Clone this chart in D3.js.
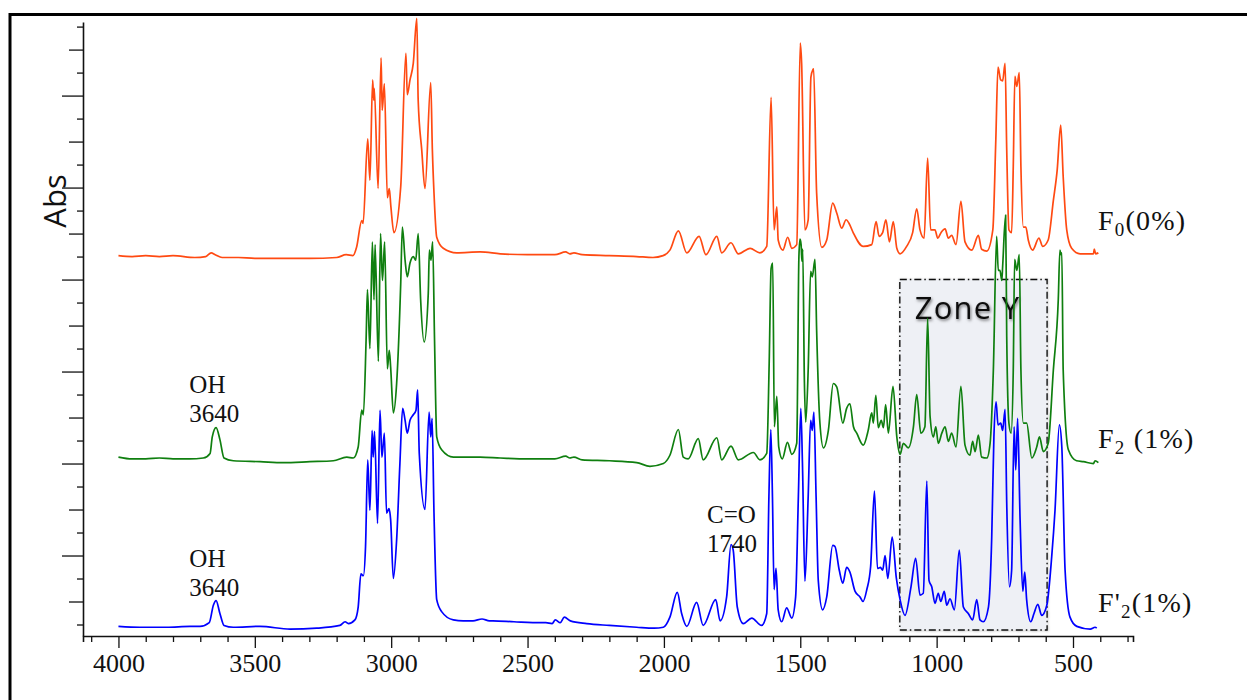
<!DOCTYPE html>
<html>
<head>
<meta charset="utf-8">
<script src="https://cdn.jsdelivr.net/npm/d3@7"></script>
<style>
  body { margin: 0; background: #fff; }
  svg { display: block; }
</style>
</head>
<body>
<svg id="chart" width="1247" height="700"></svg>
<script>
// FTIR spectra: [wavenumber (cm-1), absorbance above each trace's own baseline]
const spectrumF0 = [
  [4000,0.001],[3950,0],[3900,0.001],[3850,0],[3800,0.001],[3720,-0.001],[3680,0],[3660,0.004],[3645,0.002],[3620,-0.001],
  [3560,-0.001],[3500,-0.002],[3400,-0.002],[3300,-0.002],[3200,-0.001],[3165,0.002],[3140,0.001],[3127,0.010],[3108,0.039],[3103,0.036],
  [3086,0.128],[3078,0.083],[3068,0.192],[3064,0.170],[3062,0.183],[3048,0.074],[3037,0.216],[3033,0.159],[3025,0.188],[3014,0.064],
  [3007,0.074],[3001,0.054],[2990,0.026],[2965,0.076],[2946,0.221],[2941,0.176],[2931,0.192],[2919,0.210],[2906,0.259],[2901,0.170],
  [2888,0.116],[2876,0.074],[2855,0.189],[2849,0.116],[2843,0.069],[2833,0.021],[2809,0.009],[2760,0.004],[2674,0.005],[2600,0.003],
  [2500,0.002],[2400,0.002],[2360,0.005],[2345,0.003],[2330,0.004],[2300,0.002],[2200,0.001],[2100,0],[2040,-0.001],[2003,0.001],
  [1978,0.007],[1947,0.028],[1916,0.004],[1871,0.022],[1846,0.002],[1806,0.022],[1788,0.004],[1754,0.015],[1727,0.003],[1684,0.009],
  [1648,0.004],[1623,0.011],[1607,0.173],[1596,0.029],[1586,0.054],[1581,0.018],[1564,0.007],[1546,0.021],[1531,0.009],[1513,0.013],
  [1500,0.232],[1495,0.210],[1483,0.029],[1471,0.040],[1461,0.195],[1454,0.203],[1451,0.204],[1440,0.069],[1421,0.010],[1403,0.018],
  [1381,0.058],[1366,0.047],[1348,0.031],[1332,0.040],[1321,0.036],[1306,0.026],[1269,0.011],[1238,0.013],[1222,0.038],[1211,0.022],
  [1198,0.026],[1186,0.040],[1173,0.016],[1159,0.038],[1146,0.009],[1134,0.003],[1110,0.011],[1088,0.026],[1073,0.052],[1061,0.029],
  [1046,0.020],[1033,0.107],[1022,0.029],[1006,0.029],[996,0.020],[984,0.026],[969,0.030],[957,0.020],[945,0.023],[929,0.013],
  [911,0.060],[896,0.016],[871,0.007],[847,0.023],[835,0.008],[816,0.006],[794,0.029],[783,0.127],[775,0.206],[765,0.192],
  [758,0.191],[749,0.210],[743,0.116],[735,0.029],[725,0.026],[719,0.098],[713,0.196],[706,0.185],[697,0.200],[691,0.098],
  [682,0.032],[673,0.032],[664,0.018],[648,0.007],[625,0.020],[611,0.011],[591,0.018],[572,0.061],[558,0.094],[545,0.143],
  [536,0.087],[523,0.029],[505,0.009],[474,0.003],[425,0.003],[422,0.008],[417,0.003],[407,0.004]
];

const spectrumF2 = [
  [4000,0.007],[3950,0.005],[3900,0.005],[3850,0.006],[3800,0.005],[3740,0.005],[3689,0.006],[3664,0.011],[3656,0.029],[3642,0.039],
  [3628,0.026],[3613,0.006],[3579,0.003],[3481,0.002],[3396,0.001],[3298,0.002],[3212,0.003],[3163,0.007],[3139,0.006],[3121,0.018],
  [3108,0.058],[3102,0.053],[3092,0.134],[3087,0.189],[3078,0.125],[3069,0.241],[3063,0.178],[3059,0.238],[3047,0.111],[3039,0.250],
  [3032,0.199],[3024,0.241],[3014,0.103],[3007,0.123],[3002,0.105],[2992,0.055],[2980,0.087],[2965,0.196],[2959,0.257],[2949,0.221],
  [2941,0.203],[2931,0.218],[2919,0.225],[2910,0.221],[2901,0.250],[2892,0.178],[2879,0.132],[2864,0.185],[2860,0.232],[2854,0.221],
  [2848,0.241],[2841,0.134],[2833,0.029],[2815,0.015],[2772,0.007],[2674,0.007],[2600,0.006],[2500,0.005],[2400,0.005],[2360,0.008],
  [2345,0.006],[2330,0.007],[2300,0.004],[2200,0.003],[2100,0.001],[2051,-0.003],[2002,0],[1978,0.009],[1947,0.037],[1929,0.007],
  [1911,0.005],[1874,0.027],[1856,0.004],[1806,0.028],[1788,0.004],[1754,0.019],[1727,0.004],[1672,0.012],[1648,0.004],[1623,0.011],
  [1614,0.109],[1607,0.212],[1601,0.218],[1595,0.040],[1586,0.073],[1579,0.018],[1566,0.005],[1547,0.023],[1531,0.010],[1513,0.022],
  [1505,0.225],[1501,0.244],[1497,0.238],[1494,0.220],[1491,0.233],[1485,0.091],[1480,0.045],[1471,0.102],[1462,0.209],[1456,0.203],
  [1446,0.222],[1440,0.145],[1428,0.044],[1415,0.017],[1397,0.036],[1379,0.087],[1366,0.083],[1344,0.044],[1330,0.060],[1318,0.065],
  [1305,0.040],[1293,0.033],[1269,0.020],[1251,0.036],[1238,0.055],[1232,0.044],[1223,0.074],[1214,0.039],[1203,0.047],[1195,0.039],
  [1187,0.064],[1177,0.033],[1160,0.084],[1146,0.029],[1134,0.010],[1122,0.022],[1104,0.017],[1085,0.040],[1073,0.075],[1058,0.033],
  [1043,0.040],[1033,0.158],[1024,0.051],[1012,0.029],[1003,0.040],[994,0.022],[981,0.033],[969,0.040],[957,0.024],[945,0.033],
  [929,0.018],[911,0.084],[896,0.020],[878,0.009],[868,0.024],[859,0.013],[847,0.031],[835,0.007],[816,0.006],[804,0.022],
  [792,0.102],[780,0.247],[774,0.210],[768,0.210],[761,0.199],[758,0.214],[747,0.270],[743,0.138],[735,0.044],[727,0.033],
  [719,0.102],[714,0.222],[706,0.210],[697,0.227],[691,0.102],[682,0.044],[670,0.044],[651,0.006],[633,0.018],[623,0.029],
  [609,0.013],[591,0.022],[572,0.102],[554,0.178],[548,0.232],[544,0.227],[541,0.229],[536,0.102],[517,0.015],[487,0.003],
  [462,0.002],[425,0],[419,0.003],[407,0.001]
];

const spectrumF2p = [
  [4000,0.003],[3921,0.002],[3823,0.002],[3738,0.003],[3701,0.003],[3667,0.007],[3652,0.026],[3642,0.031],[3628,0.017],[3613,0.004],
  [3579,0.002],[3481,0.003],[3371,0],[3273,0.001],[3188,0.004],[3169,0.008],[3157,0.006],[3133,0.010],[3121,0.024],[3111,0.060],
  [3102,0.058],[3094,0.090],[3086,0.184],[3078,0.129],[3070,0.216],[3066,0.187],[3061,0.215],[3050,0.115],[3041,0.238],[3034,0.187],
  [3025,0.213],[3017,0.126],[3008,0.131],[3002,0.119],[2992,0.055],[2980,0.097],[2968,0.180],[2958,0.240],[2949,0.227],[2941,0.213],
  [2931,0.227],[2919,0.233],[2909,0.238],[2903,0.260],[2897,0.191],[2876,0.130],[2861,0.236],[2855,0.209],[2850,0.229],[2843,0.126],
  [2833,0.032],[2815,0.019],[2772,0.010],[2736,0.009],[2700,0.009],[2667,0.011],[2640,0.009],[2627,0.009],[2550,0.008],[2450,0.007],
  [2433,0.007],[2410,0.006],[2398,0.010],[2380,0.007],[2365,0.013],[2343,0.009],[2283,0.006],[2200,0.004],[2100,0.002],[2036,0.001],
  [2002,0.002],[1978,0.013],[1951,0.040],[1935,0.017],[1916,0.003],[1880,0.029],[1856,0.004],[1810,0.032],[1794,0.009],[1770,0.035],
  [1754,0.092],[1746,0.086],[1731,0.024],[1709,0.006],[1678,0.012],[1642,0.004],[1623,0.017],[1615,0.144],[1608,0.217],[1602,0.144],
  [1596,0.043],[1589,0.066],[1581,0.021],[1568,0.008],[1550,0.023],[1531,0.012],[1517,0.035],[1507,0.144],[1498,0.240],[1492,0.180],
  [1483,0.052],[1471,0.144],[1462,0.227],[1456,0.216],[1450,0.236],[1442,0.144],[1434,0.053],[1418,0.021],[1403,0.035],[1381,0.091],
  [1373,0.090],[1357,0.064],[1344,0.050],[1330,0.067],[1318,0.062],[1299,0.041],[1281,0.035],[1270,0.030],[1256,0.043],[1242,0.068],
  [1228,0.150],[1217,0.066],[1206,0.067],[1198,0.064],[1189,0.080],[1179,0.055],[1163,0.100],[1148,0.056],[1134,0.032],[1116,0.015],
  [1094,0.046],[1077,0.077],[1061,0.037],[1049,0.039],[1036,0.161],[1028,0.053],[1018,0.046],[1006,0.028],[994,0.039],[985,0.030],
  [972,0.041],[963,0.026],[951,0.033],[935,0.021],[917,0.086],[902,0.024],[884,0.017],[868,0.010],[853,0.032],[841,0.010],
  [829,0.008],[810,0.024],[798,0.100],[790,0.209],[782,0.247],[775,0.222],[765,0.224],[758,0.216],[749,0.239],[743,0.137],
  [733,0.046],[725,0.064],[716,0.220],[710,0.173],[703,0.229],[694,0.119],[684,0.041],[677,0.062],[670,0.032],[655,0.008],
  [643,0.017],[629,0.027],[615,0.015],[596,0.026],[578,0.079],[566,0.129],[550,0.222],[541,0.198],[529,0.064],[511,0.013],
  [486,0.003],[437,0],[419,0.002],[413,0.001]
];

// Stacking offsets and trace styling
const seriesData = [spectrumF0, spectrumF2, spectrumF2p];
const seriesOffsets = [0.425, 0.2, 0.02];
const seriesColors = ["#ff4a12", "#0f7f0f", "#0000ff"];
// Trace labels: main letter, subscript, remainder
const seriesLabelMain = ["F", "F", "F'"];
const seriesLabelSub = ["0", "2", "2"];
const seriesLabelRest = ["(0%)", " (1%)", "(1%)"];
const seriesLabelAbs = [0.454, 0.217, 0.0385];

// Axis ticks
const xTickValues = d3.range(4100, 299, -100);
const xTickLabels = [4000, 3500, 3000, 2500, 2000, 1500, 1000, 500];
const absTickValues = d3.range(1, 28).map(k => +(k * 0.025).toFixed(3));

// Peak annotations: two text lines each, anchored at [wavenumber, absorbance]
const peakLabelLines = [["OH", "3640"], ["OH", "3640"], ["C=O", "1740"]];
const peakLabelPos = [[3740, 0.2765], [3740, 0.0875], [1842, 0.1355]];

// Highlighted fingerprint zone: wavenumber span and absorbance span
const zoneSpan = [1135, 595];
const zoneAbs = [0.019, 0.4];
const zoneName = "Zone Y";

const svg = d3.select("#chart");
const x = d3.scaleLinear().domain([4130, 280]).range([83, 1133]);
const y = d3.scaleLinear().domain([0.0125, 0.68]).range([636, 22]);

const defs = svg.append("defs");
const shadow = defs.append("filter").attr("id", "softShadow")
  .attr("x", "-20%").attr("y", "-40%").attr("width", "140%").attr("height", "180%");
shadow.append("feDropShadow").attr("dx", 1).attr("dy", 1.5).attr("stdDeviation", 1.6)
  .attr("flood-color", "#000").attr("flood-opacity", 0.55);
const boxShadow = defs.append("filter").attr("id", "boxShadow")
  .attr("x", "-5%").attr("y", "-5%").attr("width", "110%").attr("height", "110%");
boxShadow.append("feDropShadow").attr("dx", 0.5).attr("dy", 0.5).attr("stdDeviation", 1.2)
  .attr("flood-color", "#000").attr("flood-opacity", 0.25);

// Outer frame
svg.append("rect")
  .attr("x", 10).attr("y", 14.5).attr("width", 1400).attr("height", 900)
  .attr("fill", "none").attr("stroke", "#000").attr("stroke-width", 3);

// Zone Y box (behind traces)
svg.append("rect")
  .attr("x", x(zoneSpan[0])).attr("y", y(zoneAbs[1]))
  .attr("width", x(zoneSpan[1]) - x(zoneSpan[0]))
  .attr("height", y(zoneAbs[0]) - y(zoneAbs[1]))
  .attr("fill", "#eef0f5")
  .attr("stroke", "#111").attr("stroke-width", 1.4)
  .attr("stroke-dasharray", "7 3 1.5 3")
  .attr("filter", "url(#boxShadow)");

svg.append("text")
  .attr("x", x(zoneSpan[0]) + 15).attr("y", y(zoneAbs[1]) + 39)
  .attr("font-family", "'Open Sans', 'DejaVu Sans', sans-serif")
  .attr("font-size", 31).attr("letter-spacing", 1.2).attr("fill", "#111")
  .attr("filter", "url(#softShadow)")
  .text(zoneName);

// X axis
const xAxis = d3.axisBottom(x)
  .tickValues(xTickValues)
  .tickSizeOuter(0)
  .tickSize(6)
  .tickFormat(d => xTickLabels.includes(d) ? d : "");
const gx = svg.append("g").attr("transform", "translate(0,636)").call(xAxis);
gx.select(".domain").attr("stroke", "#111").attr("stroke-width", 1.6);
gx.selectAll(".tick line")
  .attr("stroke", "#111").attr("stroke-width", 1.3)
  .attr("y2", d => xTickLabels.includes(d) ? 12 : 6);
gx.selectAll(".tick text")
  .attr("y", 36).attr("dy", 0)
  .attr("font-family", "'Liberation Serif', 'Times New Roman', serif")
  .attr("font-size", 26).attr("fill", "#111");

// Y axis (unlabelled absorbance ticks)
const yAxis = d3.axisLeft(y).tickValues(absTickValues).tickSizeOuter(0).tickFormat("");
const gy = svg.append("g").attr("transform", "translate(83,0)").call(yAxis);
gy.select(".domain").attr("stroke", "#111").attr("stroke-width", 1.6);
gy.selectAll(".tick line")
  .attr("stroke", "#111").attr("stroke-width", 1.3)
  .attr("x2", d => {
    const k = Math.round(d / 0.025);
    return k % 4 === 0 ? -21 : (k % 2 === 0 ? -14 : -6);
  });

svg.append("text")
  .attr("transform", "translate(66,201) rotate(-90)")
  .attr("text-anchor", "middle")
  .attr("font-family", "'Open Sans', 'DejaVu Sans', sans-serif")
  .attr("font-size", 31).attr("fill", "#111")
  .text("Abs");

// Spectra
seriesData.forEach((data, i) => {
  const line = d3.line()
    .x(d => x(d[0]))
    .y(d => y(d[1] + seriesOffsets[i]))
    .curve(d3.curveMonotoneX);
  svg.append("path")
    .datum(data)
    .attr("d", line)
    .attr("fill", "none")
    .attr("stroke", seriesColors[i])
    .attr("stroke-width", 1.7)
    .attr("stroke-linejoin", "round");
});

// Trace labels
const serif = "'Liberation Serif', 'Times New Roman', serif";
seriesData.forEach((data, i) => {
  const t = svg.append("text")
    .attr("x", x(408)).attr("y", y(seriesLabelAbs[i]))
    .attr("font-family", serif).attr("font-size", 28)
    .attr("letter-spacing", 1.2).attr("fill", "#111");
  t.append("tspan").text(seriesLabelMain[i]);
  t.append("tspan").attr("dy", 6).attr("font-size", 19).text(seriesLabelSub[i]);
  t.append("tspan").attr("dy", -6).text(seriesLabelRest[i]);
});

// Peak annotations
peakLabelLines.forEach((lines, i) => {
  const t = svg.append("text")
    .attr("x", x(peakLabelPos[i][0])).attr("y", y(peakLabelPos[i][1]))
    .attr("font-family", serif).attr("font-size", 25).attr("fill", "#111");
  lines.forEach((s, j) => {
    t.append("tspan").attr("x", x(peakLabelPos[i][0])).attr("dy", j === 0 ? 0 : 29).text(s);
  });
});
</script>
</body>
</html>
